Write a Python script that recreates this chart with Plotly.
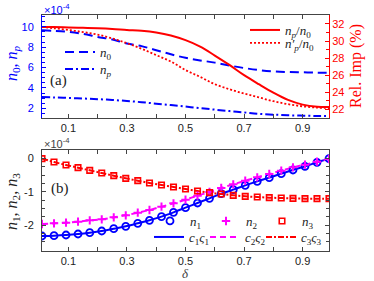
import plotly.graph_objects as go

# ---------------- data: top panel ----------------
delta_top = [0.01, 0.05, 0.10, 0.15, 0.20, 0.25, 0.30, 0.35, 0.40, 0.45, 0.50,
             0.55, 0.60, 0.65, 0.70, 0.75, 0.80, 0.85, 0.90, 0.95, 0.99]
n0 = [9.65, 9.60, 9.50, 9.30, 9.00, 8.75, 8.35, 8.10, 7.70, 7.30, 6.95,
      6.70, 6.48, 6.20, 5.95, 5.75, 5.62, 5.56, 5.53, 5.50, 5.49]
n_p = [3.10, 3.07, 3.02, 2.96, 2.90, 2.82, 2.72, 2.60, 2.46, 2.32, 2.17,
       2.02, 1.87, 1.73, 1.60, 1.46, 1.38, 1.32, 1.28, 1.25, 1.24]
ratio_p = [31.65, 31.63, 31.60, 31.55, 31.50, 31.42, 31.30, 31.20, 31.00, 30.65, 30.10,
           29.35, 28.30, 27.20, 26.00, 24.95, 23.95, 23.10, 22.55, 22.30, 22.27]
ratio_pp = [31.65, 31.50, 31.30, 31.05, 30.75, 30.30, 29.75, 29.10, 28.35, 27.60, 26.60,
            25.80, 24.95, 24.35, 23.85, 23.40, 22.95, 22.60, 22.35, 22.20, 22.15]

# ---------------- data: bottom panel ----------------
delta_bot = [0.010, 0.051, 0.092, 0.133, 0.173, 0.214, 0.255, 0.296, 0.337, 0.377,
             0.418, 0.459, 0.500, 0.541, 0.582, 0.622, 0.663, 0.704, 0.745, 0.786,
             0.827, 0.867, 0.908, 0.949, 0.990]
n1 = [-2.33, -2.32, -2.30, -2.27, -2.23, -2.18, -2.11, -2.04, -1.95, -1.86,
      -1.75, -1.62, -1.48, -1.34, -1.20, -1.06, -0.94, -0.81, -0.69, -0.58,
      -0.46, -0.35, -0.24, -0.12, -0.01]
n2 = [-1.97, -1.95, -1.93, -1.90, -1.86, -1.83, -1.77, -1.71, -1.63, -1.55,
      -1.45, -1.35, -1.24, -1.12, -1.01, -0.89, -0.78, -0.67, -0.57, -0.47,
      -0.37, -0.27, -0.19, -0.10, -0.02]
n3 = [-0.01, -0.11, -0.20, -0.28, -0.36, -0.44, -0.52, -0.60, -0.67, -0.74,
      -0.80, -0.86, -0.92, -0.98, -1.03, -1.07, -1.11, -1.14, -1.16, -1.18,
      -1.19, -1.20, -1.21, -1.21, -1.21]

x_ticks = [0.1, 0.3, 0.5, 0.7, 0.9]
x_ticktext = ["0.1", "0.3", "0.5", "0.7", "0.9"]
y1_ticks = [2, 4, 6, 8, 10]
y2_ticks = [22, 24, 26, 28, 30, 32]
y3_ticks = [0, -1, -2]
y3_ticktext = ["0", "-1", "-2"]

BLUE = "#0000ff"
RED = "#ff0000"
MAG = "#ff00ff"
FRAME = "#444444"
SERIF = "Liberation Serif"
SANS = "Liberation Sans"

W, H = 374, 281
ML, MR, MT, MB = 42, 45, 15, 30
PW, PH = W - ML - MR, H - MT - MB


def px(x):
    return (x - ML) / PW


def py(y):
    return (H - MB - y) / PH


fig = go.Figure()

# top panel
fig.add_trace(go.Scatter(x=delta_top, y=n0, mode="lines", name="<i>n</i><sub>0</sub>",
                         line=dict(color=BLUE, width=2, dash="9px,5px", shape="spline"),
                         xaxis="x", yaxis="y", legend="legend"))
fig.add_trace(go.Scatter(x=delta_top, y=n_p, mode="lines", name="<i>n<sub>p</sub></i>",
                         line=dict(color=BLUE, width=2, dash="8px,3px,2px,3px", shape="spline"),
                         xaxis="x", yaxis="y", legend="legend2"))
fig.add_trace(go.Scatter(x=delta_top, y=ratio_p, mode="lines",
                         name="<i>n<sub>p</sub></i>/<i>n</i><sub>0</sub>",
                         line=dict(color=RED, width=2, shape="spline"),
                         xaxis="x", yaxis="y2", legend="legend3"))
fig.add_trace(go.Scatter(x=delta_top, y=ratio_pp, mode="lines",
                         name="<i>n′<sub>p</sub></i>/<i>n</i><sub>0</sub>",
                         line=dict(color=RED, width=1.8, dash="2px,2px", shape="spline"),
                         xaxis="x", yaxis="y2", legend="legend4"))

# bottom panel: fitted lines
fig.add_trace(go.Scatter(x=delta_bot, y=n1, mode="lines", name="<i>c</i><sub>1</sub><i>ς</i><sub>1</sub>",
                         line=dict(color=BLUE, width=2, shape="spline"),
                         xaxis="x2", yaxis="y3", legend="legend8"))
fig.add_trace(go.Scatter(x=delta_bot, y=n2, mode="lines", name="<i>c</i><sub>2</sub><i>ς</i><sub>2</sub>",
                         line=dict(color=MAG, width=2, dash="6px,4px", shape="spline"),
                         xaxis="x2", yaxis="y3", legend="legend9"))
fig.add_trace(go.Scatter(x=delta_bot, y=n3, mode="lines", name="<i>c</i><sub>3</sub><i>ς</i><sub>3</sub>",
                         line=dict(color=RED, width=2, dash="6px,2px,2px,2px", shape="spline"),
                         xaxis="x2", yaxis="y3", legend="legend10"))
# bottom panel: markers
fig.add_trace(go.Scatter(x=delta_bot, y=n1, mode="markers", name="<i>n</i><sub>1</sub>",
                         marker=dict(symbol="circle-open", size=7, color=BLUE, line=dict(width=1.8)),
                         xaxis="x2", yaxis="y3", legend="legend5"))
fig.add_trace(go.Scatter(x=delta_bot, y=n2, mode="markers", name="<i>n</i><sub>2</sub>",
                         marker=dict(symbol="cross-thin-open", size=6, color=MAG, line=dict(width=2, color=MAG)),
                         xaxis="x2", yaxis="y3", legend="legend6"))
fig.add_trace(go.Scatter(x=delta_bot, y=n3, mode="markers", name="<i>n</i><sub>3</sub>",
                         marker=dict(symbol="square-open", size=5.5, color=RED, line=dict(width=1.6)),
                         xaxis="x2", yaxis="y3", legend="legend7"))

top_dom = [py(117.5), 1.0]
bot_dom = [0.0, py(150)]

common_x = dict(range=[0.01, 0.99], tickvals=x_ticks, ticktext=x_ticktext,
                ticks="inside", ticklen=4, tickcolor=FRAME, showline=True, linecolor=FRAME,
                linewidth=1, mirror="ticks", showgrid=False, zeroline=False,
                tickfont=dict(family=SANS, size=11, color="#222222"),
                minor=dict(dtick=0.1, tick0=0.0, ticks="inside", ticklen=4, tickcolor=FRAME))

leg_common = dict(bgcolor="rgba(0,0,0,0)", borderwidth=0, xanchor="left", yanchor="middle",
                  font=dict(family=SERIF, size=13, color="#222222"), tracegroupgap=0)


def leg(xp, yp):
    d = dict(leg_common)
    d.update(x=px(xp), y=py(yp))
    return d


fig.update_layout(
    width=W, height=H, margin=dict(l=ML, r=MR, t=MT, b=MB, autoexpand=False),
    plot_bgcolor="white", paper_bgcolor="white", showlegend=True,
    xaxis=dict(domain=[0, 1], anchor="y", **common_x),
    xaxis2=dict(domain=[0, 1], anchor="y3", **common_x),
    yaxis=dict(domain=top_dom, anchor="x", range=[1.1, 11.15], tickvals=y1_ticks,
               ticks="inside", ticklen=4, tickcolor=BLUE, showline=True, linecolor=BLUE,
               showgrid=False, zeroline=False, ticklabelstandoff=5,
               tickfont=dict(family=SANS, size=11, color=BLUE),
               minor=dict(dtick=0.5, ticks="inside", ticklen=3, tickcolor=BLUE)),
    yaxis2=dict(overlaying="y", side="right", anchor="x", range=[21.04, 33.05], tickvals=y2_ticks,
                ticks="inside", ticklen=4, tickcolor=RED, showline=True, linecolor=RED,
                showgrid=False, zeroline=False,
                tickfont=dict(family=SANS, size=11, color=RED),
                minor=dict(dtick=1, ticks="inside", ticklen=3, tickcolor=RED)),
    yaxis3=dict(domain=bot_dom, anchor="x2", range=[-2.78, 0.25], tickvals=y3_ticks,
                ticktext=y3_ticktext, ticks="inside", ticklen=4, tickcolor=FRAME,
                showline=True, linecolor=FRAME, mirror="ticks",
                showgrid=False, zeroline=False, ticklabelstandoff=5,
                tickfont=dict(family=SANS, size=11, color="#222222"),
                minor=dict(dtick=0.25, ticks="inside", ticklen=3, tickcolor=FRAME)),
    legend=leg(60, 52),
    legend2=leg(60, 69),
    legend3=leg(245, 30),
    legend4=leg(245, 43),
    legend5=leg(150, 221),
    legend6=leg(206, 221),
    legend7=leg(262, 221),
    legend8=leg(149, 237),
    legend9=leg(205, 237),
    legend10=leg(261, 237),
)

ann = [
    dict(text="×10<sup>-4</sup>", x=px(42), y=py(9), xanchor="left", yanchor="middle",
         font=dict(family=SANS, size=11, color=BLUE)),
    dict(text="×10<sup>-4</sup>", x=px(42), y=py(143), xanchor="left", yanchor="middle",
         font=dict(family=SANS, size=11, color="#444444")),
    dict(text="<i>n</i><sub>0</sub>, <i>n<sub>p</sub></i>", x=px(12), y=py(63), textangle=-90,
         xanchor="center", yanchor="middle", font=dict(family=SERIF, size=16, color=BLUE)),
    dict(text="Rel. Imp (%)", x=px(356), y=py(66), textangle=-90,
         xanchor="center", yanchor="middle", font=dict(family=SERIF, size=16, color=RED)),
    dict(text="<i>n</i><sub>1</sub>, <i>n</i><sub>2</sub>, <i>n</i><sub>3</sub>", x=px(12), y=py(202),
         textangle=-90, xanchor="center", yanchor="middle",
         font=dict(family=SERIF, size=16, color="#222222")),
    dict(text="<i>δ</i>", x=px(185), y=py(273), xanchor="center", yanchor="middle",
         font=dict(family=SERIF, size=13, color="#444444")),
    dict(text="(a)", x=px(58), y=py(80), xanchor="center", yanchor="middle",
         font=dict(family=SERIF, size=15, color="#222222")),
    dict(text="(b)", x=px(60), y=py(188), xanchor="center", yanchor="middle",
         font=dict(family=SERIF, size=15, color="#222222")),
]
for a in ann:
    a.update(xref="paper", yref="paper", showarrow=False)
fig.update_layout(annotations=ann)

fig.write_html("out.html", config={"displayModeBar": False},
               post_script="document.body.style.margin='0';document.body.style.padding='0';")
